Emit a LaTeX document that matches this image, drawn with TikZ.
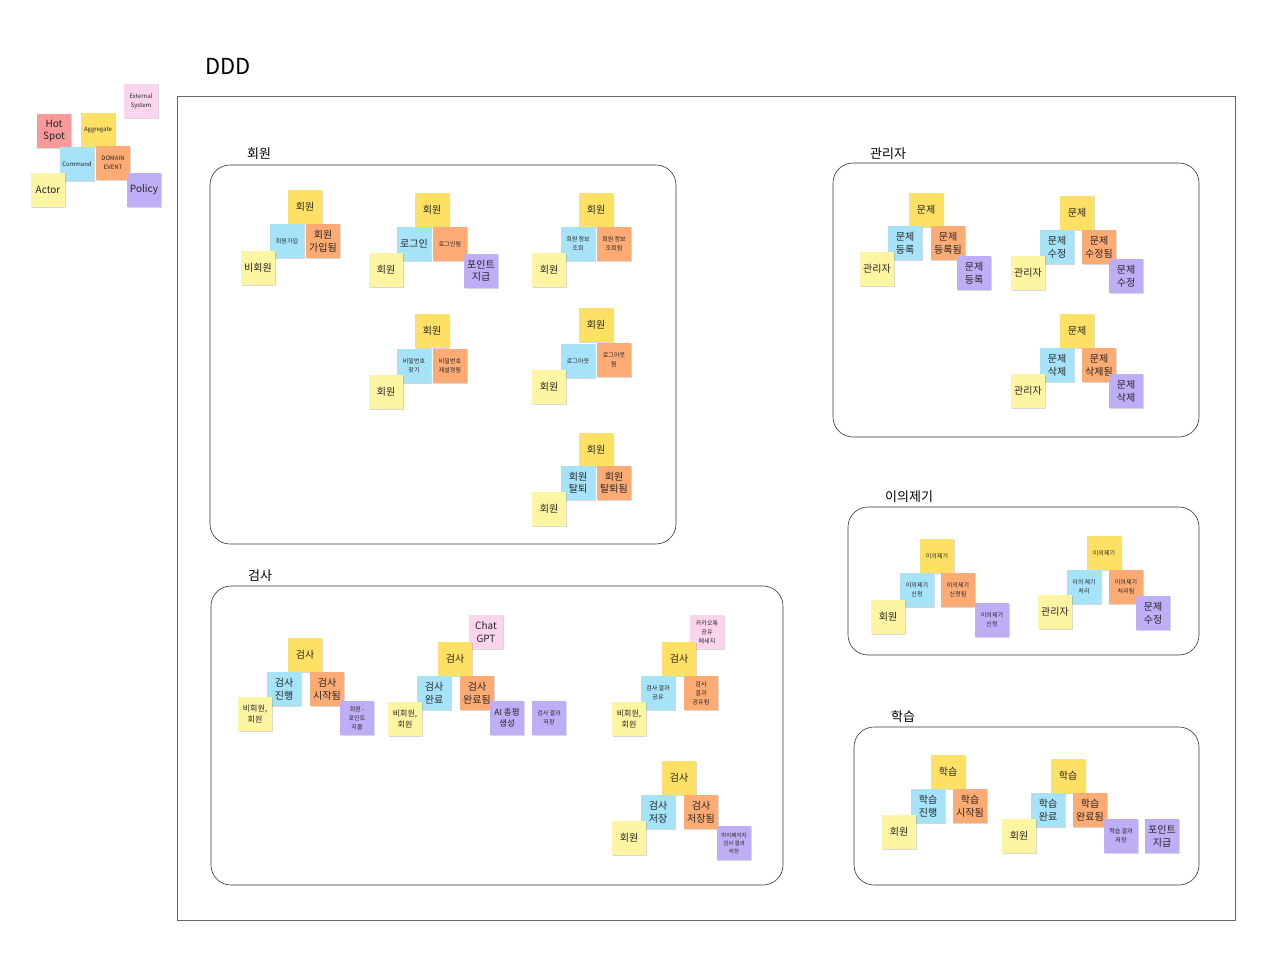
\documentclass[tikz,border=0pt]{standalone}
\usepackage{fontspec}
\setmainfont{Noto Sans CJK KR}
\usetikzlibrary{shadows}
\definecolor{cagg}{HTML}{FDE064}
\definecolor{ccmd}{HTML}{A6E3F8}
\definecolor{cevt}{HTML}{FCAB74}
\definecolor{cact}{HTML}{FEF5A3}
\definecolor{cpol}{HTML}{BDAEF6}
\definecolor{chot}{HTML}{F89A9A}
\definecolor{cext}{HTML}{FCD4EC}
\tikzset{
  sticky/.style={minimum width=34pt, minimum height=34pt, inner sep=0.5pt, align=center,
    drop shadow={shadow xshift=0.6pt, shadow yshift=-1pt, opacity=0.25, fill=black!60}, text=black!85},
  big/.style={font=\fontsize{10}{12.5}\selectfont},
  sml/.style={font=\fontsize{6}{9}\selectfont},
  agg/.style={sticky, fill=cagg},
  cmd/.style={sticky, fill=ccmd},
  evt/.style={sticky, fill=cevt},
  act/.style={sticky, fill=cact},
  pol/.style={sticky, fill=cpol},
  hot/.style={sticky, fill=chot},
  ext/.style={sticky, fill=cext},
  grp/.style={draw=black!80, line width=0.6pt, rounded corners=20pt},
  glabel/.style={anchor=west, font=\fontsize{13}{15}\selectfont, inner sep=0pt}
}
\begin{document}
\begin{tikzpicture}[x=1pt,y=-1pt]
\useasboundingbox[fill=white] (0,0) rectangle (1280,967);
% legend
\node[ext,sml] (lext) at (141,101) {External\\System};
\node[hot,big] (lhot) at (54,131) {Hot\\Spot};
\node[agg,sml] (lagg) at (98,130) {Aggregate};
\node[cmd,sml] (lcmd) at (77,164) {Command};
\node[evt,sml] (levt) at (113,163) {DOMAIN\\EVENT};
\node[act,big] (lact) at (48,190) {Actor};
\node[pol,big] (lpol) at (144,190) {Policy};
% title and frame
\node[anchor=west, font=\fontsize{22}{24}\selectfont, inner sep=0pt] (title) at (205,66) {DDD};
\draw[black!60, line width=0.7pt] (177,96) rectangle (1235,920);
% group boxes
\draw[grp] (210,165) rectangle (676,544);
\node[glabel] (g1) at (247,154) {회원};
\draw[grp] (833,163) rectangle (1199,437);
\node[glabel] (g2) at (870,154) {관리자};
\draw[grp] (848,507) rectangle (1199,655);
\node[glabel] (g3) at (885,497) {이의제기};
\draw[grp] (211,586) rectangle (783,885);
\node[glabel] (g4) at (248,576) {검사};
\draw[grp] (854,727) rectangle (1199,885);
\node[glabel] (g5) at (891,717) {학습};
% 회원 group
\node[agg,big] (a1) at (305,207) {회원};
\node[cmd,sml] (c1) at (287,241) {회원가입};
\node[evt,big] (e1) at (323,241) {회원\\가입됨};
\node[act,big] (r1) at (258,268) {비회원};

\node[agg,big] (a2) at (432,210) {회원};
\node[cmd,big] (c2) at (414,244) {로그인};
\node[evt,sml] (e2) at (450,244) {로그인됨};
\node[act,big] (r2) at (386,270) {회원};
\node[pol,big] (p2) at (481,271) {포인트\\지급};

\node[agg,big] (a3) at (596,210) {회원};
\node[cmd,sml] (c3) at (578,244) {회원 정보\\조회};
\node[evt,sml] (e3) at (614,244) {회원 정보\\조회됨};
\node[act,big] (r3) at (549,270) {회원};

\node[agg,big] (a4) at (432,331) {회원};
\node[cmd,sml] (c4) at (414,366) {비밀번호\\찾기};
\node[evt,sml] (e4) at (450,366) {비밀번호\\재설정됨};
\node[act,big] (r4) at (386,392) {회원};

\node[agg,big] (a5) at (596,325) {회원};
\node[cmd,sml] (c5) at (578,361) {로그아웃};
\node[evt,sml] (e5) at (614,360) {로그아웃\\됨};
\node[act,big] (r5) at (549,387) {회원};

\node[agg,big] (a6) at (596,450) {회원};
\node[cmd,big] (c6) at (578,483) {회원\\탈퇴};
\node[evt,big] (e6) at (614,483) {회원\\탈퇴됨};
\node[act,big] (r6) at (549,509) {회원};
% 관리자 group
\node[agg,big] (a7) at (926,210) {문제};
\node[cmd,big] (c7) at (905,243) {문제\\등록};
\node[evt,big] (e7) at (948,243) {문제\\등록됨};
\node[act,big] (r7) at (877,269) {관리자};
\node[pol,big] (p7) at (974,273) {문제\\등록};

\node[agg,big] (a8) at (1077,213) {문제};
\node[cmd,big] (c8) at (1057,247) {문제\\수정};
\node[evt,big] (e8) at (1099,247) {문제\\수정됨};
\node[act,big] (r8) at (1028,273) {관리자};
\node[pol,big] (p8) at (1126,276) {문제\\수정};

\node[agg,big] (a9) at (1077,331) {문제};
\node[cmd,big] (c9) at (1057,365) {문제\\삭제};
\node[evt,big] (e9) at (1099,365) {문제\\삭제됨};
\node[act,big] (r9) at (1028,391) {관리자};
\node[pol,big] (p9) at (1126,391) {문제\\삭제};
% 이의제기 group
\node[agg,sml] (a10) at (937,556) {이의제기};
\node[cmd,sml] (c10) at (917,590) {이의제기\\신청};
\node[evt,sml] (e10) at (958,590) {이의제기\\신청됨};
\node[act,big] (r10) at (888,617) {회원};
\node[pol,sml] (p10) at (992,620) {이의제기\\신청};

\node[agg,sml] (a11) at (1104,553) {이의제기};
\node[cmd,sml] (c11) at (1084,587) {이의 제기\\처리};
\node[evt,sml] (e11) at (1126,587) {이의제기\\처리됨};
\node[act,big] (r11) at (1055,612) {관리자};
\node[pol,big] (p11) at (1153,613) {문제\\수정};
% 검사 group
\node[agg,big] (a12) at (305,655) {검사};
\node[cmd,big] (c12) at (284,689) {검사\\진행};
\node[evt,big] (e12) at (327,689) {검사\\시작됨};
\node[act,sml,font=\fontsize{8}{11}\selectfont] (r12) at (255,714) {비회원,\\회원};
\node[pol,sml] (p12) at (357,718) {회원 -\\포인트\\지불};

\node[ext,big] (x13) at (486,632) {Chat\\GPT};
\node[agg,big] (a13) at (455,659) {검사};
\node[cmd,big] (c13) at (434,693) {검사\\완료};
\node[evt,big] (e13) at (477,693) {검사\\완료됨};
\node[act,sml,font=\fontsize{8}{11}\selectfont] (r13) at (405,719) {비회원,\\회원};
\node[pol,sml,font=\fontsize{8.5}{11}\selectfont] (p13) at (507,718) {AI 총평\\생성};
\node[pol,sml] (q13) at (549,718) {검사 결과\\저장};

\node[ext,sml] (x14) at (707,632) {카카오톡\\공유\\메세지};
\node[agg,big] (a14) at (679,659) {검사};
\node[cmd,sml] (c14) at (658,693) {검사 결과\\공유};
\node[evt,sml] (e14) at (701,693) {검사\\결과\\공유됨};
\node[act,sml,font=\fontsize{8}{11}\selectfont] (r14) at (629,719) {비회원,\\회원};

\node[agg,big] (a15) at (679,778) {검사};
\node[cmd,big] (c15) at (658,812) {검사\\저장};
\node[evt,big] (e15) at (701,812) {검사\\저장됨};
\node[act,big] (r15) at (629,838) {회원};
\node[pol,sml,font=\fontsize{5.5}{8}\selectfont] (p15) at (734,843) {마이페이지\\검사 결과\\저장};
% 학습 group
\node[agg,big] (a16) at (948,772) {학습};
\node[cmd,big] (c16) at (928,806) {학습\\진행};
\node[evt,big] (e16) at (970,806) {학습\\시작됨};
\node[act,big] (r16) at (899,832) {회원};

\node[agg,big] (a17) at (1068,776) {학습};
\node[cmd,big] (c17) at (1048,810) {학습\\완료};
\node[evt,big] (e17) at (1090,810) {학습\\완료됨};
\node[act,big] (r17) at (1019,836) {회원};
\node[pol,sml] (p17) at (1121,836) {학습 결과\\저장};
\node[pol,big] (q17) at (1162,836) {포인트\\지급};
\end{tikzpicture}
\end{document}
